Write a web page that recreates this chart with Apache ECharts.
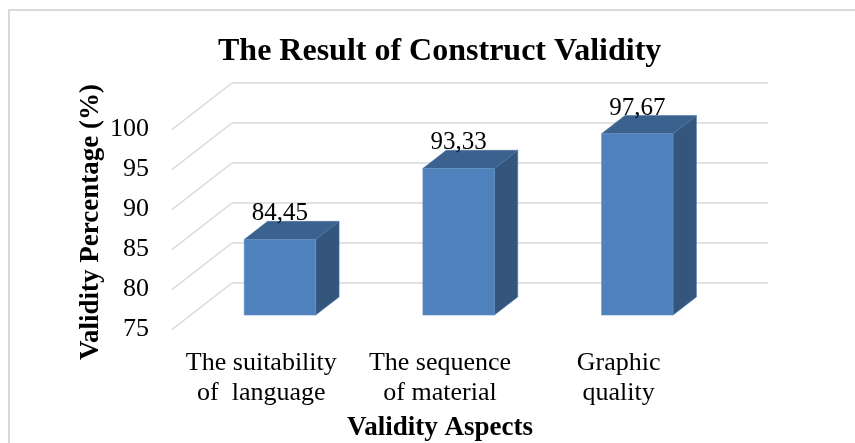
<!DOCTYPE html>
<html>
<head>
<meta charset="utf-8">
<script src="https://cdn.jsdelivr.net/npm/echarts@6/dist/echarts.min.js"></script>
<style>
  html, body { margin: 0; padding: 0; background: #fff; }
  #chart { width: 855px; height: 443px; }
</style>
</head>
<body>
<div id="chart"></div>
<script>
const categories = ["The suitability\nof  language", "The sequence\nof material", "Graphic\nquality"];
const validity = [84.45, 93.33, 97.67];
const yTicks = [75, 80, 85, 90, 95, 100];

const FONT = "Liberation Serif";
const GRID_COLOR = "#d9d9d9";

// floor depth vector (front-left corner -> back-left corner) and where the bars sit in it
const DX = 60, DY = -46.5;
const BAR_FRONT = 0.31, BAR_BACK = 0.70;

const chart = echarts.init(document.getElementById("chart"));

function renderDiagonal(params, api) {
  const cs = params.coordSys;
  const y = api.coord([0, api.value(0)])[1];
  return {
    type: "line",
    shape: { x1: cs.x, y1: y, x2: cs.x + DX, y2: y + DY },
    style: { stroke: GRID_COLOR, lineWidth: 1.5 }
  };
}

function renderBar(params, api) {
  const i = api.value(0);
  const v = api.value(1);
  const base = api.coord([i, 75]);
  const top = api.coord([i, v]);
  const w = api.size([1, 0])[0] * 0.4;
  const fx = DX * BAR_FRONT, fy = DY * BAR_FRONT;
  const sx = DX * (BAR_BACK - BAR_FRONT), sy = DY * (BAR_BACK - BAR_FRONT);
  const x0 = base[0] - w / 2 + fx, x1 = base[0] + w / 2 + fx;
  const yb = base[1] + fy, yt = top[1] + fy;
  return {
    type: "group",
    children: [
      {
        type: "polygon",
        shape: { points: [[x1, yb], [x1 + sx, yb + sy], [x1 + sx, yt + sy], [x1, yt]] },
        style: { fill: "#34567d", stroke: "#4a75a8", lineWidth: 0.6 }
      },
      {
        type: "polygon",
        shape: { points: [[x0, yt], [x1, yt], [x1 + sx, yt + sy], [x0 + sx, yt + sy]] },
        style: { fill: "#3b618f", stroke: "#4a75a8", lineWidth: 0.6 }
      },
      {
        type: "rect",
        shape: { x: x0, y: yt, width: w, height: yb - yt },
        style: { fill: "#4f81bd", stroke: "#6a95c9", lineWidth: 0.6 }
      },
      {
        type: "text",
        style: {
          text: String(v).replace(".", ","),
          x: (x0 + x1) / 2,
          y: yt + sy + 5,
          align: "center",
          verticalAlign: "bottom",
          fill: "#000",
          fontFamily: FONT,
          fontSize: 25
        }
      }
    ]
  };
}

chart.setOption({
  animation: false,
  backgroundColor: "#fff",
  title: {
    text: "The Result of Construct Validity",
    left: 213,
    top: 31,
    textStyle: { fontFamily: FONT, fontSize: 32, fontWeight: "bold", color: "#000" }
  },
  graphic: [
    {
      type: "rect",
      shape: { x: 9, y: 10, width: 900, height: 500 },
      style: { fill: "none", stroke: GRID_COLOR, lineWidth: 2 }
    },
    {
      type: "text",
      x: 91,
      y: 222,
      rotation: Math.PI / 2,
      style: {
        text: "Validity Percentage (%)",
        align: "center",
        verticalAlign: "middle",
        fill: "#000",
        fontFamily: FONT,
        fontWeight: "bold",
        fontSize: 27
      }
    }
  ],
  grid: [
    // back wall
    { left: 232, right: 87, top: 83, bottom: 160 },
    // front plane of the floor
    { left: 172, right: 147, top: 129.5, bottom: 113.5 }
  ],
  xAxis: [
    { gridIndex: 0, type: "category", data: categories, show: false },
    {
      gridIndex: 1,
      type: "category",
      data: categories,
      axisLine: { show: false },
      axisTick: { show: false },
      axisLabel: {
        interval: 0,
        margin: 19,
        fontFamily: FONT,
        fontSize: 26,
        lineHeight: 30,
        color: "#000"
      },
      name: "Validity Aspects",
      nameLocation: "middle",
      nameGap: 85,
      nameTextStyle: { fontFamily: FONT, fontSize: 27, fontWeight: "bold", color: "#000" }
    }
  ],
  yAxis: [
    {
      gridIndex: 0,
      type: "value",
      min: 75,
      max: 100,
      interval: 5,
      axisLine: { show: false },
      axisTick: { show: false },
      axisLabel: { show: false },
      splitLine: { lineStyle: { color: GRID_COLOR, width: 1.5 } }
    },
    {
      gridIndex: 1,
      type: "value",
      min: 75,
      max: 100,
      interval: 5,
      axisLine: { show: false },
      axisTick: { show: false },
      splitLine: { show: false },
      axisLabel: { margin: 23, fontFamily: FONT, fontSize: 26, color: "#000" }
    }
  ],
  series: [
    {
      type: "custom",
      xAxisIndex: 1,
      yAxisIndex: 1,
      renderItem: renderDiagonal,
      encode: { y: 0 },
      data: yTicks.map(t => [t]),
      silent: true
    },
    {
      type: "custom",
      xAxisIndex: 1,
      yAxisIndex: 1,
      renderItem: renderBar,
      encode: { x: 0, y: 1 },
      data: validity.map((v, i) => [i, v])
    }
  ]
});
</script>
</body>
</html>
